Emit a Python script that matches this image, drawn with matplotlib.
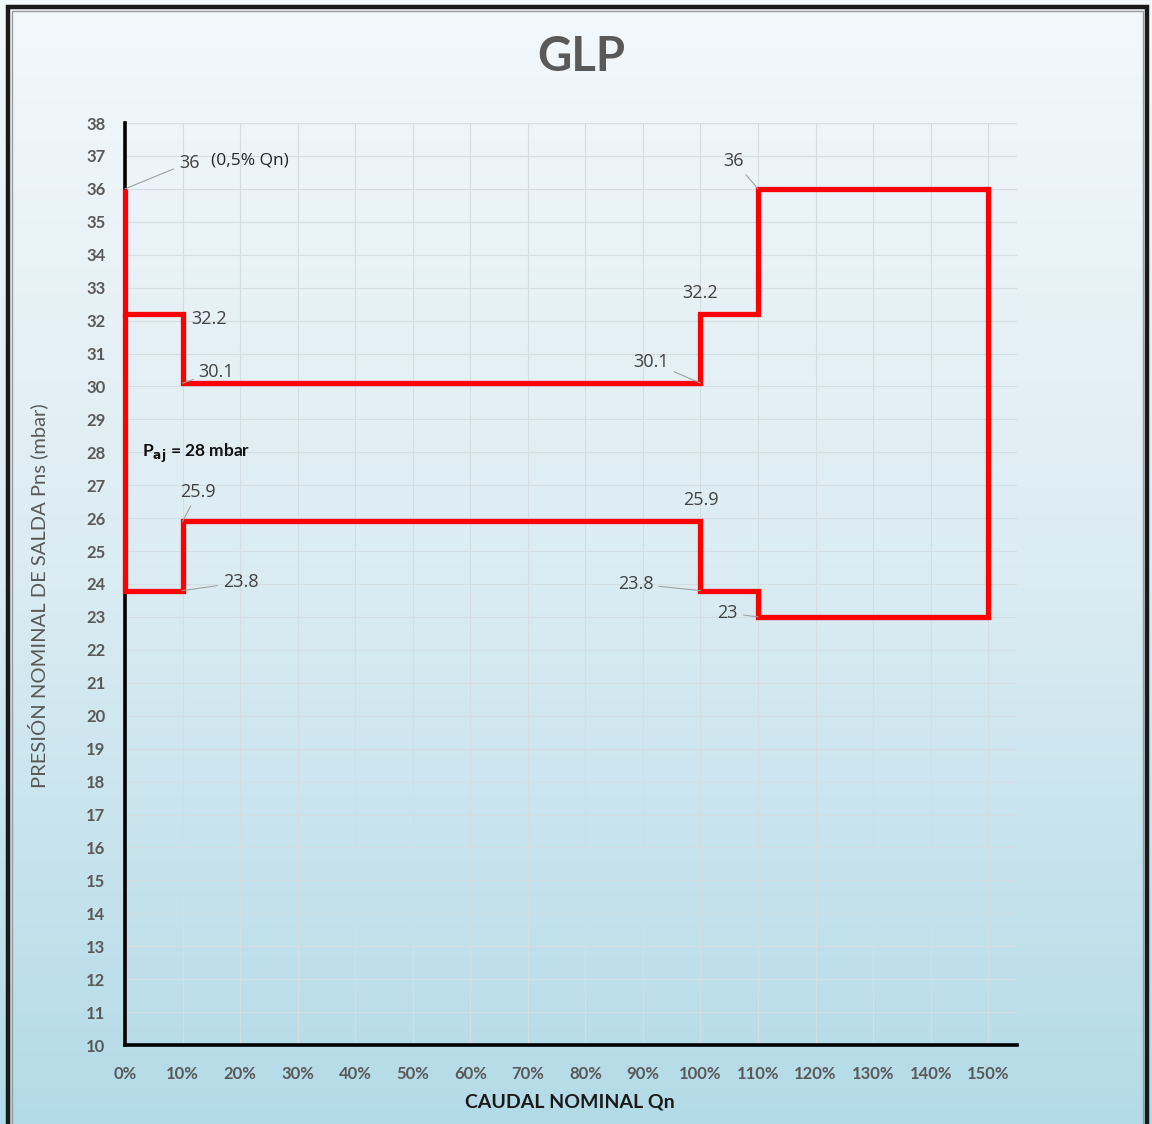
import numpy as np
import matplotlib
matplotlib.use("Agg")
import matplotlib.pyplot as plt
from matplotlib.patches import Rectangle
from matplotlib.colors import LinearSegmentedColormap

# ---- data ----
path_x = [0, 0, 10, 10, 100, 100, 110, 110, 150, 150, 110, 110, 100, 100, 10, 10, 0, 0]
path_y = [36, 32.2, 32.2, 30.1, 30.1, 32.2, 32.2, 36, 36, 23, 23, 23.8, 23.8, 25.9, 25.9, 23.8, 23.8, 32.2]

x_ticks = list(range(0, 151, 10))
y_ticks = list(range(10, 39))

# annotations: (text, point_x, point_y, text_x, text_y, ha)
ann_labels = ["36", "32.2", "30.1", "25.9", "23.8", "30.1", "32.2", "36", "25.9", "23.8", "23"]
ann_px = [0, 10, 10, 10, 10, 100, 100, 110, 100, 100, 110]
ann_py = [36, 32.2, 30.1, 25.9, 23.8, 30.1, 32.2, 36, 25.9, 23.8, 23]
ann_tx = [9.4, 11.5, 12.8, 12.7, 17.0, 94.5, 100.0, 107.6, 100.0, 91.8, 106.5]
ann_ty = [36.8, 32.05, 30.45, 26.8, 24.05, 30.75, 32.85, 36.85, 26.55, 24.0, 23.12]
ann_ha = ["left", "left", "left", "center", "left", "right", "center", "right", "center", "right", "right"]
ann_leader = [True, False, True, True, True, True, False, True, False, True, True]

title = "GLP"
xlabel = "CAUDAL NOMINAL Qn"
ylabel = "PRESIÓN NOMINAL DE SALDA Pns (mbar)"

plt.rcParams['font.family'] = ['Lato', 'DejaVu Sans']

W, H = 1152, 1124
fig = plt.figure(figsize=(W / 100, H / 100), dpi=100)

# background gradient
bg = fig.add_axes([0, 0, 1, 1], zorder=-10)
cmap = LinearSegmentedColormap.from_list("bgc", ["#f3f8fb", "#dcecf3", "#b3dbe7"])
grad = np.linspace(0, 1, 256).reshape(-1, 1)
bg.imshow(grad, aspect="auto", cmap=cmap, extent=[0, 1, 0, 1], origin="upper")
bg.set_xlim(0, 1)
bg.set_ylim(0, 1)
bg.axis("off")
# border frame
bg.add_patch(Rectangle((8 / W, -0.01), (1147 - 8) / W, (1124 - 7) / H + 0.01,
                       fill=False, edgecolor="#1a1a1a", linewidth=3.2))
bg.add_patch(Rectangle((12 / W, -0.01), (1143 - 12) / W, (1124 - 11) / H + 0.01,
                       fill=False, edgecolor="#9a9a9a", linewidth=1.0))

ax = fig.add_axes([125 / W, 1 - 1045 / H, (1017 - 125) / W, (1045 - 123) / H])
ax.patch.set_alpha(0)
ax.set_xlim(0, 155)
ax.set_ylim(10, 38)
ax.set_xticks(x_ticks)
ax.set_xticklabels([f"{v}%" for v in x_ticks])
ax.set_yticks(y_ticks)
ax.tick_params(length=0, labelsize=12, labelcolor="#595959")
ax.tick_params(axis="y", pad=14)
ax.tick_params(axis="x", pad=15)
for lab in ax.get_xticklabels() + ax.get_yticklabels():
    lab.set_fontweight("bold")
ax.grid(True, color="#d3dde2", linewidth=0.8)
ax.set_axisbelow(True)
for s in ["top", "right"]:
    ax.spines[s].set_visible(False)
for s in ["left", "bottom"]:
    ax.spines[s].set_linewidth(2.6)
    ax.spines[s].set_color("black")
    ax.spines[s].set_zorder(1)

ax.plot(path_x, path_y, color="#ff0000", linewidth=3.8, solid_joinstyle="miter",
        solid_capstyle="butt", zorder=3, clip_on=False)

for t, px, py, tx, ty, ha, ld in zip(ann_labels, ann_px, ann_py, ann_tx, ann_ty, ann_ha, ann_leader):
    if ld:
        ax.annotate(t, xy=(px, py), xytext=(tx, ty), ha=ha, va="center",
                    fontsize=13, color="#404040", fontfamily=["Open Sans", "DejaVu Sans"],
                    arrowprops=dict(arrowstyle="-", color="#a0a0a0", lw=0.8,
                                    shrinkA=2, shrinkB=0), zorder=4)
    else:
        ax.text(tx, ty, t, ha=ha, va="center", fontsize=13, color="#404040",
                fontfamily=["Open Sans", "DejaVu Sans"], zorder=4)

ax.text(15.0, 36.85, "(0,5% Qn)", ha="left", va="center", fontsize=12.5, color="#262626",
        fontfamily=["Open Sans", "DejaVu Sans"])
ax.text(3.0, 27.98, r"P$_{\mathbf{aj}}$ = 28 mbar", ha="left", va="center", fontsize=12.5,
        fontweight="bold", color="#111111")

fig.text(581 / W, 1 - 57 / H, title, ha="center", va="center", fontsize=34,
         fontweight="bold", color="#595959")
fig.text(570 / W, 1 - 1102 / H, xlabel, ha="center", va="center", fontsize=14,
         fontweight="bold", color="#1a1a1a")
fig.text(38 / W, 1 - 596 / H, ylabel, ha="center", va="center", fontsize=14.5,
         rotation=90, color="#595959")

fig.savefig("out.png", dpi=100)
